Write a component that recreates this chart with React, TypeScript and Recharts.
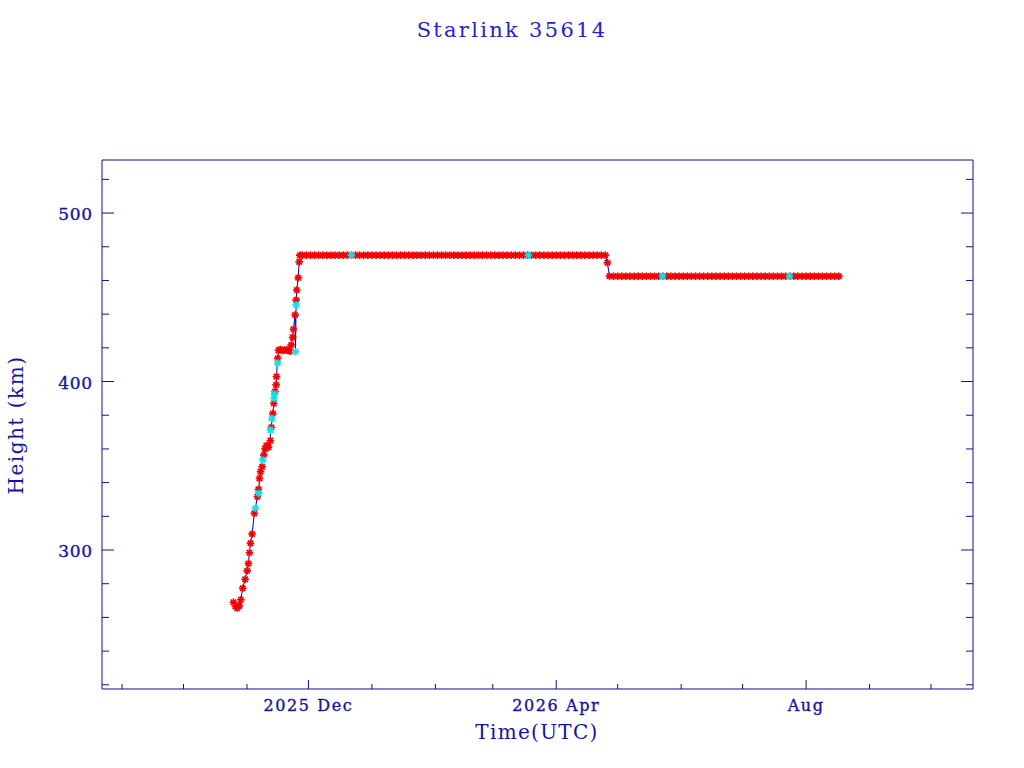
import { Scatter, ScatterChart, XAxis, YAxis } from "recharts";

const DAY = 86400000;
// observation days are counted from 2025 Dec 1, 00:00 UTC
const EPOCH = Date.UTC(2025, 11, 1);

// [day, height km] orbit raising phase
const ascentObs: [number, number][] = [
  [-36.6, 269], [-35.6, 266.5], [-34.7, 265.5], [-33.7, 267], [-33.0, 270.5],
  [-32.1, 277.3], [-30.9, 282.6], [-29.9, 287.7], [-29.3, 292], [-28.8, 298.4],
  [-28.3, 304], [-27.5, 309.5], [-26.4, 321.8], [-24.9, 331.7], [-24.4, 336],
  [-23.9, 342.5], [-23.4, 346.5], [-22.6, 349.4], [-21.8, 356.4], [-21.2, 360],
  [-20.5, 362], [-19.5, 361], [-18.6, 364.9], [-18.1, 372.8], [-17.4, 381],
  [-16.9, 387], [-16.3, 394], [-15.8, 398], [-15.6, 402.9], [-15.0, 413.8],
  [-14.6, 418.5], [-13.7, 419], [-12.7, 418.5], [-11.7, 418.5], [-10.7, 419],
  [-9.8, 418.5], [-9.0, 418], [-8.4, 421.7], [-7.7, 426.2], [-7.3, 431],
  [-6.5, 439.5], [-6.0, 448.4], [-5.7, 454.3], [-5.0, 461.6], [-4.5, 471],
  [-4.2, 475],
];

// [day, height km] first operational shell
const highOrbitObs: [number, number][] = [
  [-3, 475], [-1, 475], [1, 475], [3, 475], [5, 475], [7, 475], [9, 475], [11, 475],
  [13, 475], [15, 475], [17, 475], [19, 475], [21, 475], [23, 475], [25, 475], [27, 475],
  [29, 475], [31, 475], [33, 475], [35, 475], [37, 475], [39, 475], [41, 475], [43, 475],
  [45, 475], [47, 475], [49, 475], [51, 475], [53, 475], [55, 475], [57, 475], [59, 475],
  [61, 475], [63, 475], [65, 475], [67, 475], [69, 475], [71, 475], [73, 475], [75, 475],
  [77, 475], [79, 475], [81, 475], [83, 475], [85, 475], [87, 475], [89, 475], [91, 475],
  [93, 475], [95, 475], [97, 475], [99, 475], [101, 475], [103, 475], [105, 475], [107, 475],
  [109, 475], [111, 475], [113, 475], [115, 475], [117, 475], [119, 475], [121, 475], [123, 475],
  [125, 475], [127, 475], [129, 475], [131, 475], [133, 475], [135, 475], [137, 475], [139, 475],
  [141, 475], [143, 475], [145, 475],
];

// [day, height km] after the lowering in late April
const lowOrbitObs: [number, number][] = [
  [146, 470.5], [147, 462.5], [149, 462.5], [151, 462.5], [153, 462.5], [155, 462.5],
  [157, 462.5], [159, 462.5], [161, 462.5], [163, 462.5], [165, 462.5], [167, 462.5],
  [169, 462.5], [171, 462.5], [173, 462.5], [175, 462.5], [177, 462.5], [179, 462.5],
  [181, 462.5], [183, 462.5], [185, 462.5], [187, 462.5], [189, 462.5], [191, 462.5],
  [193, 462.5], [195, 462.5], [197, 462.5], [199, 462.5], [201, 462.5], [203, 462.5],
  [205, 462.5], [207, 462.5], [209, 462.5], [211, 462.5], [213, 462.5], [215, 462.5],
  [217, 462.5], [219, 462.5], [221, 462.5], [223, 462.5], [225, 462.5], [227, 462.5],
  [229, 462.5], [231, 462.5], [233, 462.5], [235, 462.5], [237, 462.5], [239, 462.5],
  [241, 462.5], [243, 462.5], [245, 462.5], [247, 462.5], [249, 462.5], [251, 462.5],
  [253, 462.5], [255, 462.5], [257, 462.5], [259, 462.5],
];

// [day, height km] the cyan points
const cyanObs: [number, number][] = [
  [-25.9, 324.8], [-24.3, 333.7], [-22.3, 353.4], [-18.6, 371.2], [-17.8, 378],
  [-16.8, 390], [-16.5, 392.5], [-15.0, 411], [-6.3, 417.7], [-6.0, 445.4],
  [21.0, 475], [107.4, 475], [172.9, 462.5], [234.9, 462.5],
];

const monthTicks = [
  "2025-09-01", "2025-10-01", "2025-11-01", "2025-12-01", "2026-01-01", "2026-02-01",
  "2026-03-01", "2026-04-01", "2026-05-01", "2026-06-01", "2026-07-01", "2026-08-01",
  "2026-09-01", "2026-10-01",
];
const monthLabels: Record<string, string> = {
  "2025-12-01": "2025 Dec",
  "2026-04-01": "2026 Apr",
  "2026-08-01": "Aug",
};
const heightTicks = [220, 240, 260, 280, 300, 320, 340, 360, 380, 400, 420, 440, 460, 480, 500, 520];
const heightLabels = [300, 400, 500];

const X_DOMAIN = [Date.UTC(2025, 7, 22, 5), Date.UTC(2026, 9, 21, 12)];
const Y_DOMAIN = [217.5, 531.5];

const PLOT = { left: 102, right: 973, top: 160, bottom: 689 };
const AXIS = "#10108a";
const TEXT = "#1414a0";
const FONT = "'DejaVu Serif', serif";

const toPoint = ([d, h]: [number, number]) => ({ t: EPOCH + d * DAY, h });
const redPoints = [...ascentObs, ...highOrbitObs, ...lowOrbitObs].map(toPoint);
const cyanPoints = cyanObs.map(toPoint);
const allPoints = [...redPoints, ...cyanPoints].sort((a, b) => a.t - b.t);

const xTicks = monthTicks.map((s) => Date.parse(s + "T00:00:00Z"));
const xLabel = (v: number) => monthLabels[new Date(v).toISOString().slice(0, 10)];

function Star({ cx, cy, color }: any) {
  if (cx == null || cy == null) return <g />;
  const r = 3.8;
  const d = 2.7;
  return (
    <g stroke={color} strokeWidth={1.7}>
      <line x1={cx - r} x2={cx + r} y1={cy} y2={cy} />
      <line x1={cx} x2={cx} y1={cy - r} y2={cy + r} />
      <line x1={cx - d} x2={cx + d} y1={cy - d} y2={cy + d} />
      <line x1={cx - d} x2={cx + d} y1={cy + d} y2={cy - d} />
    </g>
  );
}

function BottomTick({ x, payload }: any) {
  const label = xLabel(payload.value);
  return (
    <g>
      <line x1={x} x2={x} y1={PLOT.bottom} y2={PLOT.bottom - (label ? 9 : 5)} stroke={AXIS} />
      {label && (
        <text x={x} y={705} textAnchor="middle" dominantBaseline="central" fill={TEXT}
          stroke={TEXT} strokeWidth={0.35} fontFamily={FONT} fontSize={16} letterSpacing={1.6}>
          {label}
        </text>
      )}
    </g>
  );
}

function TopTick({ x, payload }: any) {
  const major = !!xLabel(payload.value);
  return <line x1={x} x2={x} y1={PLOT.top} y2={PLOT.top + (major ? 9 : 5)} stroke={AXIS} />;
}

function LeftTick({ y, payload }: any) {
  const major = heightLabels.includes(payload.value);
  return (
    <g>
      <line x1={PLOT.left} x2={PLOT.left + (major ? 12 : 7)} y1={y} y2={y} stroke={AXIS} />
      {major && (
        <text x={93} y={y + 1} textAnchor="end" dominantBaseline="central" fill={TEXT}
          stroke={TEXT} strokeWidth={0.35} fontFamily={FONT} fontSize={17} letterSpacing={0.8}>
          {payload.value}
        </text>
      )}
    </g>
  );
}

function RightTick({ y, payload }: any) {
  const major = heightLabels.includes(payload.value);
  return <line x1={PLOT.right} x2={PLOT.right - (major ? 12 : 7)} y1={y} y2={y} stroke={AXIS} />;
}

export default function App() {
  return (
    <div style={{ position: "absolute", left: 0, top: 0, width: 1024, height: 768, background: "#fff" }}>
      <ScatterChart
        width={1024}
        height={768}
        margin={{ top: PLOT.top - 10, right: 1024 - PLOT.right - 10, bottom: 768 - PLOT.bottom - 40, left: PLOT.left - 40 }}
      >
        <XAxis dataKey="t" type="number" domain={X_DOMAIN} allowDataOverflow ticks={xTicks}
          interval={0} height={40} tickSize={0} tickMargin={0} stroke={AXIS} tick={<BottomTick />} />
        <XAxis xAxisId="top" orientation="top" type="number" domain={X_DOMAIN} allowDataOverflow
          ticks={xTicks} interval={0} height={10} tickSize={0} tickMargin={0} stroke={AXIS} tick={<TopTick />} />
        <YAxis dataKey="h" type="number" domain={Y_DOMAIN} allowDataOverflow ticks={heightTicks}
          interval={0} width={40} tickSize={0} tickMargin={0} stroke={AXIS} tick={<LeftTick />} />
        <YAxis yAxisId="right" orientation="right" type="number" domain={Y_DOMAIN} allowDataOverflow
          ticks={heightTicks} interval={0} width={10} tickSize={0} tickMargin={0} stroke={AXIS} tick={<RightTick />} />
        <Scatter data={allPoints} line={{ stroke: "#0000c0", strokeWidth: 1 }} shape={() => <g />}
          isAnimationActive={false} />
        <Scatter data={redPoints} shape={(p: any) => <Star {...p} color="#f00000" />} isAnimationActive={false} />
        <Scatter data={cyanPoints} shape={(p: any) => <Star {...p} color="#10e0ee" />} isAnimationActive={false} />
      </ScatterChart>
      <div style={{ position: "absolute", left: 0, top: 17, width: 1024, textAlign: "center",
        fontFamily: FONT, fontSize: 21, lineHeight: "26px", letterSpacing: 2.3, color: "#2424c8" }}>
        Starlink 35614
      </div>
      <div style={{ position: "absolute", left: 437, top: 719, width: 200, textAlign: "center",
        fontFamily: FONT, fontSize: 20, lineHeight: "26px", letterSpacing: 1.3, color: TEXT }}>
        Time(UTC)
      </div>
      <div style={{ position: "absolute", left: -84, top: 412, width: 200, height: 26, textAlign: "center",
        fontFamily: FONT, fontSize: 20, lineHeight: "26px", letterSpacing: 1.5, color: TEXT,
        transform: "rotate(-90deg)" }}>
        Height (km)
      </div>
    </div>
  );
}
